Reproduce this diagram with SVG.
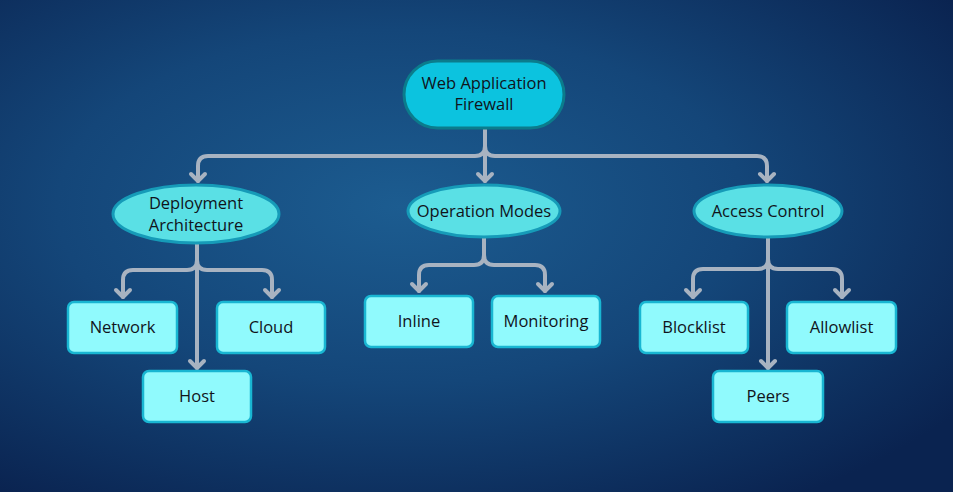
<svg xmlns="http://www.w3.org/2000/svg" width="953" height="492" viewBox="0 0 953 492">
<defs>
<radialGradient id="bg" cx="0.42" cy="0.42" r="0.72">
<stop offset="0" stop-color="#1c5c90"/>
<stop offset="0.5" stop-color="#144679"/>
<stop offset="1" stop-color="#0a2350"/>
</radialGradient>
<marker id="arr" viewBox="-10 -10 20 20" markerWidth="20" markerHeight="20" markerUnits="userSpaceOnUse" orient="auto">
<path d="M-7,-7 L0,0 L-7,7" fill="none" stroke="#a8b3c1" stroke-width="4" stroke-linecap="round" stroke-linejoin="round"/>
</marker>
<style>
.txt{font-family:"Open Sans","Liberation Sans",sans-serif;font-size:16.5px;fill:#10141b;text-anchor:middle;}
.root{fill:#0cc3df;stroke:#0b7c8c;stroke-width:3;}
.mid{fill:#5ae0e5;stroke:#169bb8;stroke-width:3;}
.leaf{fill:#90fafd;stroke:#19b6d2;stroke-width:2.5;}
.con{fill:none;stroke:#a8b3c1;stroke-width:4;stroke-linecap:round;stroke-linejoin:round;marker-end:url(#arr);}
</style>
</defs>
<rect width="953" height="492" fill="url(#bg)"/>
<g id="connectors">
<path class="con" d="M485,128 V181"/>
<path class="con" d="M485,130 V146 Q485,156 475,156 H208 Q198,156 198,166 V181"/>
<path class="con" d="M485,130 V146 Q485,156 495,156 H757 Q767,156 767,166 V181"/>
<path class="con" d="M197,243 V368"/>
<path class="con" d="M197,245 V260 Q197,270 187,270 H133 Q123,270 123,280 V297"/>
<path class="con" d="M197,245 V260 Q197,270 207,270 H262 Q272,270 272,280 V297"/>
<path class="con" d="M484,237 V255 Q484,265 474,265 H429 Q419,265 419,275 V291"/>
<path class="con" d="M484,237 V255 Q484,265 494,265 H535 Q545,265 545,275 V291"/>
<path class="con" d="M768,237 V368"/>
<path class="con" d="M768,239 V259 Q768,269 758,269 H703 Q693,269 693,279 V297"/>
<path class="con" d="M768,239 V259 Q768,269 778,269 H832 Q842,269 842,279 V297"/>
</g>
<g id="waf">
<rect class="root" x="404" y="61" width="160" height="67" rx="33.5"/>
<text class="txt" x="484" y="89">Web Application</text>
<text class="txt" x="484" y="110">Firewall</text>
</g>
<g id="deployment">
<ellipse class="mid" cx="196" cy="214" rx="83" ry="29"/>
<text class="txt" x="196" y="209">Deployment</text>
<text class="txt" x="196" y="231">Architecture</text>
</g>
<g id="operation">
<ellipse class="mid" cx="484" cy="211" rx="76" ry="26"/>
<text class="txt" x="484" y="217">Operation Modes</text>
</g>
<g id="access">
<ellipse class="mid" cx="768" cy="211" rx="74" ry="26"/>
<text class="txt" x="768" y="217">Access Control</text>
</g>
<g id="network">
<rect class="leaf" x="68" y="302" width="109" height="51" rx="6"/>
<text class="txt" x="122.5" y="333">Network</text>
</g>
<g id="cloud">
<rect class="leaf" x="217" y="302" width="108" height="51" rx="6"/>
<text class="txt" x="271" y="333">Cloud</text>
</g>
<g id="host">
<rect class="leaf" x="143" y="371" width="108" height="51" rx="6"/>
<text class="txt" x="197" y="402">Host</text>
</g>
<g id="inline">
<rect class="leaf" x="365" y="296" width="108" height="51" rx="6"/>
<text class="txt" x="419" y="327">Inline</text>
</g>
<g id="monitoring">
<rect class="leaf" x="492" y="296" width="108" height="51" rx="6"/>
<text class="txt" x="546" y="327">Monitoring</text>
</g>
<g id="blocklist">
<rect class="leaf" x="640" y="302" width="108" height="51" rx="6"/>
<text class="txt" x="694" y="333">Blocklist</text>
</g>
<g id="allowlist">
<rect class="leaf" x="787" y="302" width="109" height="51" rx="6"/>
<text class="txt" x="841.5" y="333">Allowlist</text>
</g>
<g id="peers">
<rect class="leaf" x="713" y="371" width="110" height="51" rx="6"/>
<text class="txt" x="768" y="402">Peers</text>
</g>
</svg>
